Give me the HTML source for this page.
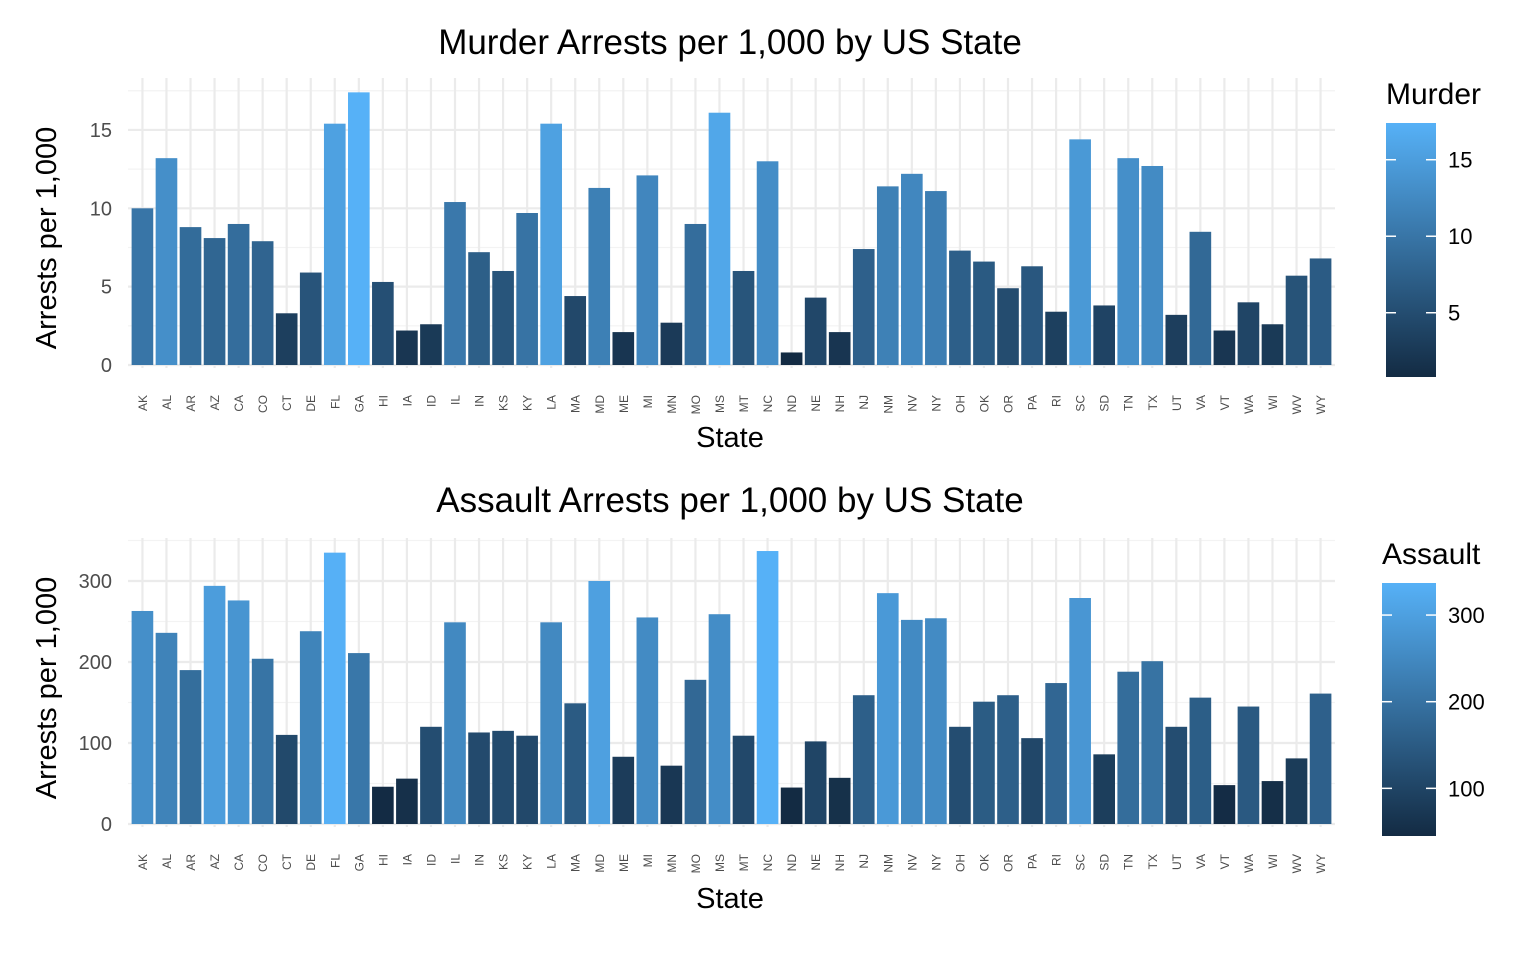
<!DOCTYPE html>
<html><head><meta charset="utf-8"><style>
body{margin:0;background:#fff;font-family:"Liberation Sans",Arial,sans-serif}
</style></head><body>
<svg id="chart" width="1528" height="948" xmlns="http://www.w3.org/2000/svg">
<defs>
<linearGradient id="gradM" x1="0" y1="1" x2="0" y2="0"><stop offset="0" stop-color="#132B43"/><stop offset="1" stop-color="#56B1F7"/></linearGradient>
</defs>
</svg>
<script>
const states=["AK","AL","AR","AZ","CA","CO","CT","DE","FL","GA","HI","IA","ID","IL","IN","KS","KY","LA","MA","MD","ME","MI","MN","MO","MS","MT","NC","ND","NE","NH","NJ","NM","NV","NY","OH","OK","OR","PA","RI","SC","SD","TN","TX","UT","VA","VT","WA","WI","WV","WY"];
const murder=[10.0,13.2,8.8,8.1,9.0,7.9,3.3,5.9,15.4,17.4,5.3,2.2,2.6,10.4,7.2,6.0,9.7,15.4,4.4,11.3,2.1,12.1,2.7,9.0,16.1,6.0,13.0,0.8,4.3,2.1,7.4,11.4,12.2,11.1,7.3,6.6,4.9,6.3,3.4,14.4,3.8,13.2,12.7,3.2,8.5,2.2,4.0,2.6,5.7,6.8];
const assault=[263,236,190,294,276,204,110,238,335,211,46,56,120,249,113,115,109,249,149,300,83,255,72,178,259,109,337,45,102,57,159,285,252,254,120,151,159,106,174,279,86,188,201,120,156,48,145,53,81,161];
const murderTicks=[0,5,10,15];
const assaultTicks=[0,100,200,300];
const murderLegendTicks=[5,10,15];
const assaultLegendTicks=[100,200,300];

const svg=document.getElementById('chart');
const NS="http://www.w3.org/2000/svg";
function mk(tag,attrs,parent){const e=document.createElementNS(NS,tag);for(const k in attrs)e.setAttribute(k,attrs[k]);(parent||svg).appendChild(e);return e;}
function mix(t){const a=[0x13,0x2B,0x43],b=[0x56,0xB1,0xF7];return 'rgb('+a.map((v,i)=>Math.round(v+(b[i]-v)*t)).join(',')+')';}

function panel(cfg){
  const g=mk('g',{});
  
  
  const L=128,R=1335,T=cfg.top,B=cfg.bottom;
  const unit=(R-L)/(states.length-1+1.2);
  const xc=i=>L+(0.6+i)*unit;
  const y=v=>cfg.y0-v*cfg.ppu;
  const step=cfg.ticks[1]-cfg.ticks[0];
  for(let v=cfg.ticks[0]+step/2;y(v)>=T;v+=step){mk('line',{x1:L,x2:R,y1:y(v),y2:y(v),stroke:'#f3f3f3','stroke-width':1.2},g);}
  cfg.ticks.forEach(v=>{mk('line',{x1:L,x2:R,y1:y(v),y2:y(v),stroke:'#ebebeb','stroke-width':2.2},g);
    const t=mk('text',{x:112,y:y(v)+7,'text-anchor':'end','font-size':20,fill:'#4d4d4d'},g);t.textContent=v;
    });
  states.forEach((s,i)=>{mk('line',{x1:xc(i),x2:xc(i),y1:T,y2:B,stroke:'#ebebeb','stroke-width':2.2},g);});
  const mn=Math.min(...cfg.data),mx=Math.max(...cfg.data);
  cfg.data.forEach((v,i)=>{
    const r=mk('rect',{x:xc(i)-unit*0.45,width:unit*0.9,y:y(v),height:y(0)-y(v),fill:mix((v-mn)/(mx-mn))},g);
    
    
    const t=mk('text',{transform:`translate(${xc(i)+4.5},${B+cfg.labOff}) rotate(-90)`,'text-anchor':'end','font-size':12,fill:'#4d4d4d'},g);
    t.textContent=states[i];
    
  });
  const ti=mk('text',{x:730,y:cfg.titleY,'text-anchor':'middle','font-size':35,fill:'#000'},g);ti.textContent=cfg.title;
  
  const xt=mk('text',{x:730,y:cfg.xTitleY,'text-anchor':'middle','font-size':29,fill:'#000'},g);xt.textContent='State';
  
  const yt=mk('text',{transform:`translate(56,${cfg.yTitleMid}) rotate(-90)`,'text-anchor':'middle','font-size':29,fill:'#000'},g);yt.textContent='Arrests per 1,000';
  
  const lg=mk('g',{},g);
  
  const lt=mk('text',{x:cfg.legX,y:cfg.legTitleY,'font-size':30,fill:'#000'},lg);lt.textContent=cfg.legTitle;
  mk('rect',{x:cfg.barX,y:cfg.barT,width:cfg.barW,height:cfg.barB-cfg.barT,fill:'url(#gradM)'},lg);
  const ly=v=>cfg.barB-(v-mn)/(mx-mn)*(cfg.barB-cfg.barT);
  cfg.legTicks.forEach(v=>{
    mk('line',{x1:cfg.barX,x2:cfg.barX+10,y1:ly(v),y2:ly(v),stroke:'#fff','stroke-width':1.5},lg);
    mk('line',{x1:cfg.barX+cfg.barW-10,x2:cfg.barX+cfg.barW,y1:ly(v),y2:ly(v),stroke:'#fff','stroke-width':1.5},lg);
    const t=mk('text',{x:cfg.barX+cfg.barW+12,y:ly(v)+8,'font-size':22,fill:'#000'},lg);t.textContent=v;
  });
}
panel({name:'murder',data:murder,ticks:murderTicks,legTicks:murderLegendTicks,top:78,bottom:368,y0:365,ppu:15.67,labOff:27,
  title:'Murder Arrests per 1,000 by US State',titleY:54,xTitleY:447,yTitleMid:238,
  legTitle:'Murder',legX:1386,legTitleY:104,barX:1386,barW:50,barT:123,barB:377});
panel({name:'assault',data:assault,ticks:assaultTicks,legTicks:assaultLegendTicks,top:538,bottom:827,y0:824,ppu:0.81,labOff:27,
  title:'Assault Arrests per 1,000 by US State',titleY:512,xTitleY:908,yTitleMid:688,
  legTitle:'Assault',legX:1382,legTitleY:564,barX:1382,barW:54,barT:583,barB:836});
</script>
</body></html>
